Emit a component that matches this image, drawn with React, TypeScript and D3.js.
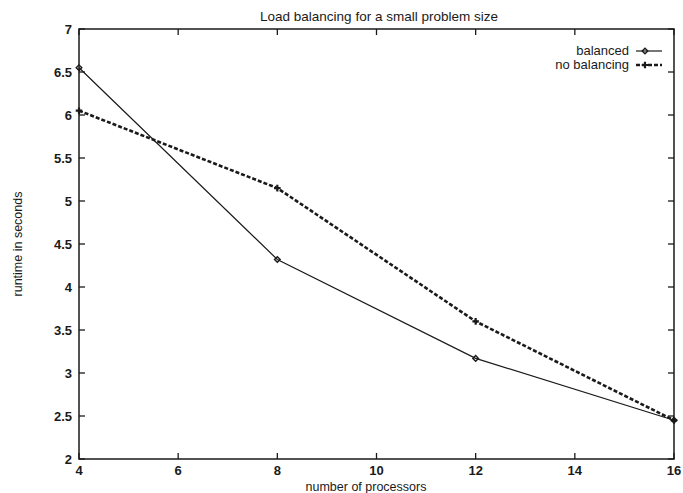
import React, { useEffect, useRef } from 'react';
import * as d3 from 'd3';

const processors = [4, 8, 12, 16];
const balanced = [6.55, 4.32, 3.17, 2.45];
const noBalancing = [6.05, 5.15, 3.6, 2.45];
const xTicks = [4, 6, 8, 10, 12, 14, 16];
const yTicks = [2, 2.5, 3, 3.5, 4, 4.5, 5, 5.5, 6, 6.5, 7];

const App = () => {
  const ref = useRef<SVGSVGElement>(null);

  useEffect(() => {
    const width = 683;
    const height = 493;
    const m = { top: 29, right: 9, bottom: 34, left: 79 };
    const ink = '#1a1a1a';
    const font = '"Liberation Sans", Arial, sans-serif';

    const svg = d3.select(ref.current);
    svg.selectAll('*').remove();
    svg.attr('width', width).attr('height', height);

    svg.append('rect').attr('width', width).attr('height', height).attr('fill', '#fff');

    const x = d3.scaleLinear().domain([4, 16]).range([m.left, width - m.right]);
    const y = d3.scaleLinear().domain([2, 7]).range([height - m.bottom, m.top]);

    const g = svg.append('g');

    // frame
    g.append('rect')
      .attr('x', x(4)).attr('y', y(7))
      .attr('width', x(16) - x(4)).attr('height', y(2) - y(7))
      .attr('fill', 'none').attr('stroke', ink).attr('stroke-width', 1.5);

    // ticks, inward on all four sides
    const tl = 6;
    xTicks.forEach(t => {
      g.append('line').attr('x1', x(t)).attr('x2', x(t)).attr('y1', y(2)).attr('y2', y(2) - tl)
        .attr('stroke', ink).attr('stroke-width', 1.3);
      g.append('line').attr('x1', x(t)).attr('x2', x(t)).attr('y1', y(7)).attr('y2', y(7) + tl)
        .attr('stroke', ink).attr('stroke-width', 1.3);
      g.append('text').attr('x', x(t)).attr('y', y(2) + 16)
        .attr('text-anchor', 'middle').attr('font-family', font).attr('font-size', 13)
        .attr('font-weight', 'bold').attr('fill', ink).text(t);
    });
    yTicks.forEach(t => {
      g.append('line').attr('x1', x(4)).attr('x2', x(4) + tl).attr('y1', y(t)).attr('y2', y(t))
        .attr('stroke', ink).attr('stroke-width', 1.3);
      g.append('line').attr('x1', x(16)).attr('x2', x(16) - tl).attr('y1', y(t)).attr('y2', y(t))
        .attr('stroke', ink).attr('stroke-width', 1.3);
      g.append('text').attr('x', x(4) - 7).attr('y', y(t) + 5)
        .attr('text-anchor', 'end').attr('font-family', font).attr('font-size', 13)
        .attr('font-weight', 'bold').attr('fill', ink).text(t);
    });

    const line = d3.line<number>().x((_, i) => x(processors[i])).y(d => y(d));

    g.append('path').datum(noBalancing).attr('d', line)
      .attr('fill', 'none').attr('stroke', ink).attr('stroke-width', 2.6)
      .attr('stroke-dasharray', '4,2');
    g.append('path').datum(balanced).attr('d', line)
      .attr('fill', 'none').attr('stroke', ink).attr('stroke-width', 1.2);

    const diamond = d3.symbol().type(d3.symbolSquare).size(16);
    const plus = d3.symbol().type(d3.symbolCross).size(24);

    balanced.forEach((v, i) => {
      g.append('path').attr('d', diamond())
        .attr('transform', `translate(${x(processors[i])},${y(v)}) rotate(45)`)
        .attr('fill', 'none').attr('stroke', ink).attr('stroke-width', 1.4);
    });
    noBalancing.forEach((v, i) => {
      g.append('path').attr('d', plus())
        .attr('transform', `translate(${x(processors[i])},${y(v)})`)
        .attr('fill', ink);
    });

    // legend
    const lx = 629;
    const ly1 = 51;
    const ly2 = 65;
    g.append('text').attr('x', lx).attr('y', ly1 + 4).attr('text-anchor', 'end')
      .attr('font-family', font).attr('font-size', 13).attr('fill', ink).text('balanced');
    g.append('line').attr('x1', lx + 7).attr('x2', lx + 33).attr('y1', ly1).attr('y2', ly1)
      .attr('stroke', ink).attr('stroke-width', 1.2);
    g.append('path').attr('d', diamond()).attr('transform', `translate(${lx + 16},${ly1}) rotate(45)`)
      .attr('fill', 'none').attr('stroke', ink).attr('stroke-width', 1.4);

    g.append('text').attr('x', lx).attr('y', ly2 + 4).attr('text-anchor', 'end')
      .attr('font-family', font).attr('font-size', 13).attr('fill', ink).text('no balancing');
    g.append('line').attr('x1', lx + 7).attr('x2', lx + 33).attr('y1', ly2).attr('y2', ly2)
      .attr('stroke', ink).attr('stroke-width', 2.6).attr('stroke-dasharray', '4,2');
    g.append('path').attr('d', plus()).attr('transform', `translate(${lx + 16},${ly2})`)
      .attr('fill', ink);

    // titles
    svg.append('text').attr('x', 379).attr('y', 21).attr('text-anchor', 'middle')
      .attr('font-family', font).attr('font-size', 13.5).attr('fill', ink)
      .text('Load balancing for a small problem size');
    svg.append('text').attr('x', 366).attr('y', 491).attr('text-anchor', 'middle')
      .attr('font-family', font).attr('font-size', 12.5).attr('fill', ink)
      .text('number of processors');
    svg.append('text')
      .attr('transform', `translate(22,${(y(2) + y(7)) / 2}) rotate(-90)`)
      .attr('text-anchor', 'middle').attr('font-family', font).attr('font-size', 12.5)
      .attr('fill', ink).text('runtime in seconds');
  }, []);

  return (
    <div style={{ position: 'absolute', left: 0, top: 0 }}>
      <svg ref={ref}></svg>
    </div>
  );
};

export default App;
